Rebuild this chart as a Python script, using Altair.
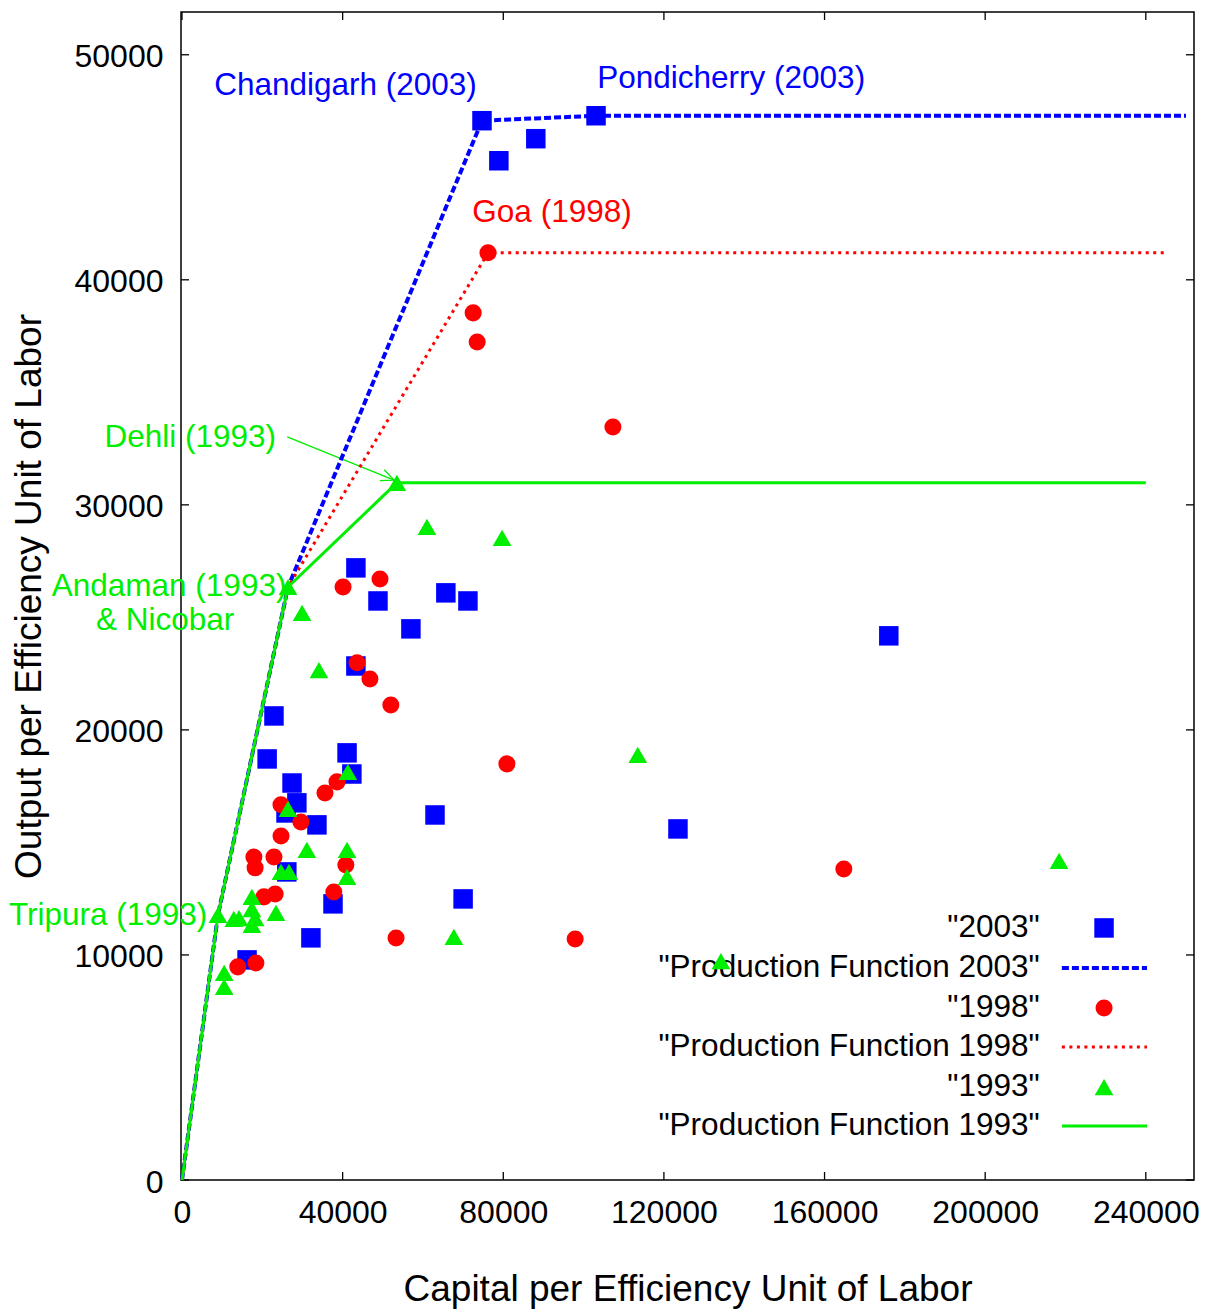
import altair as alt
import pandas as pd

# ---- observations: capital (x) and output (y) per efficiency unit of labor ----
x_2003 = [74700, 103100, 78900, 88100, 43300, 48800, 65700, 71200, 57000, 43300,
          22900, 21200, 41100, 42300, 27400, 28600, 25900, 33600, 63000, 70000,
          37600, 32100, 16200, 26100, 123500, 176000]
y_2003 = [47070, 47290, 45290, 46270, 27200, 25730, 26090, 25730, 24490, 22840,
          20620, 18710, 18980, 18040, 17640, 16760, 16310, 15780, 16220, 12490,
          12270, 10760, 9780, 13690, 15600, 24180]

x_1998 = [76200, 72500, 73500, 107300, 49300, 40100, 43600, 46800, 52000, 80900,
          38600, 35600, 24650, 29600, 24650, 17900, 18200, 22900, 40800, 20400,
          23200, 37800, 13900, 18400, 53300, 97900, 164800]
y_1998 = [41200, 38530, 37240, 33460, 26710, 26350, 22980, 22260, 21110, 18490,
          17690, 17200, 16670, 15910, 15290, 14350, 13870, 14350, 14000, 12580,
          12710, 12800, 9470, 9640, 10750, 10710, 13820]

x_1993 = [53500, 26400, 8960, 61000, 79700, 29900, 34100, 41300, 113500, 26400,
          31100, 41100, 24650, 26640, 41100, 17400, 17400, 18200, 17400, 23400,
          12900, 14200, 67700, 10500, 10500, 134200, 218400]
y_1993 = [30980, 26350, 11780, 29020, 28530, 25200, 22660, 18130, 18890, 16490,
          14670, 14670, 13690, 13690, 13470, 12580, 12040, 11640, 11330, 11870,
          11600, 11640, 10800, 9200, 8580, 9730, 14180]

# ---- production-function frontiers ----
pf_2003_x = [0, 8960, 26400, 74700, 103100, 250000]
pf_2003_y = [0, 11780, 26350, 47070, 47290, 47290]
pf_1998_x = [0, 8960, 26400, 76200, 245000]
pf_1998_y = [0, 11780, 26350, 41200, 41200]
pf_1993_x = [0, 8960, 26400, 53500, 240000]
pf_1993_y = [0, 11780, 26350, 30980, 30980]

# ---- annotations ----
ann_text = ["Chandigarh (2003)", "Pondicherry (2003)", "Goa (1998)",
            "Dehli (1993)", "Andaman (1993)", "& Nicobar", "Tripura (1993)"]
ann_x = [8000, 103400, 72300, 23400, 26000, -4200, 6300]
ann_y = [48620, 48930, 42980, 32980, 26350, 24840, 11730]
ann_align = ["left", "left", "left", "right", "right", "center", "right"]
ann_color = ["blue", "blue", "red", "#00ee00", "#00ee00", "#00ee00", "#00ee00"]

arrow_x = [26200, 52800]
arrow_y = [33020, 31100]

# ---- key entries ----
key_labels = ['"2003"', '"Production Function 2003"', '"1998"',
              '"Production Function 1998"', '"1993"', '"Production Function 1993"']
key_rows_y = [11200, 9420, 7640, 5910, 4130, 2400]
key_text_x = 213600
key_sample_x = [219100, 240300]
key_point_x = 229600

x_ticks = [0, 40000, 80000, 120000, 160000, 200000, 240000]
y_ticks = [0, 10000, 20000, 30000, 40000, 50000]

GREEN = "#00ee00"
FONT = "Liberation Sans"
FS = 32        # tick labels
FS_TXT = 31.5  # annotations and key
W, H = 1013, 1168

xscale = alt.Scale(domain=[-250, 252000], nice=False, zero=False)
yscale = alt.Scale(domain=[0, 51900], nice=False, zero=False)


def X(field="x"):
    return alt.X(f"{field}:Q", scale=xscale,
                 axis=alt.Axis(values=x_ticks, format="d", ticks=False, grid=False,
                               domain=False, labelPadding=17, labelFontSize=FS,
                               labelFont=FONT, labelColor="black",
                               title="Capital per Efficiency Unit of Labor",
                               titleFontSize=37, titleFont=FONT, titleFontWeight="normal",
                               titlePadding=43, titleColor="black"))


def Y(field="y"):
    return alt.Y(f"{field}:Q", scale=yscale,
                 axis=alt.Axis(values=y_ticks, format="d", ticks=False, grid=False,
                               domain=False, labelPadding=18, labelFontSize=FS,
                               labelFont=FONT, labelColor="black", labelBaseline="middle",
                               labelOffset=2,
                               title="Output per Efficiency Unit of Labor",
                               titleFontSize=37, titleFont=FONT, titleFontWeight="normal",
                               titlePadding=26, titleColor="black"))


def pts(xs, ys):
    return pd.DataFrame({"x": xs, "y": ys})


def path(xs, ys):
    return pd.DataFrame({"x": xs, "y": ys, "i": list(range(len(xs)))})


# inward ticks on all four sides of the frame
tick_x_df = pd.DataFrame({"x": x_ticks})
tick_y_df = pd.DataFrame({"y": y_ticks})
ticks_bottom = alt.Chart(tick_x_df).mark_rule(color="black", strokeWidth=1.3).encode(
    x=X(), y=alt.value(H), y2=alt.value(H - 8))
ticks_top = alt.Chart(tick_x_df).mark_rule(color="black", strokeWidth=1.3).encode(
    x=X(), y=alt.value(0), y2=alt.value(8))
ticks_left = alt.Chart(tick_y_df).mark_rule(color="black", strokeWidth=1.3).encode(
    y=Y(), x=alt.value(0), x2=alt.value(8))
ticks_right = alt.Chart(tick_y_df).mark_rule(color="black", strokeWidth=1.3).encode(
    y=Y(), x=alt.value(W), x2=alt.value(W - 8))

# text annotations
ann_layers = []
for t, ax, ay, al, c in zip(ann_text, ann_x, ann_y, ann_align, ann_color):
    ann_layers.append(
        alt.Chart(pd.DataFrame({"x": [ax], "y": [ay], "t": [t]}))
        .mark_text(align=al, baseline="middle", fontSize=FS_TXT, font=FONT, color=c)
        .encode(x=X(), y=Y(), text="t:N"))

arrow_shaft = alt.Chart(path(arrow_x, arrow_y)).mark_line(
    color=GREEN, strokeWidth=1.3).encode(x=X(), y=Y(), order="i:Q")
arrow_head = alt.Chart(pts(arrow_x[1:], arrow_y[1:])).mark_point(
    shape="M -1 -0.45 L 0 0 L -1 0.45", size=676, filled=False, color=GREEN,
    strokeWidth=1.3, angle=22, opacity=1).encode(x=X(), y=Y())

# key
key_text = alt.Chart(pd.DataFrame({"x": [key_text_x] * 6, "y": key_rows_y, "t": key_labels})
                     ).mark_text(align="right", baseline="middle", fontSize=FS_TXT, font=FONT,
                                 color="black").encode(x=X(), y=Y(), text="t:N")

sq_style = dict(shape="square", size=380, filled=True, color="blue", opacity=1)
ci_style = dict(shape="circle", size=290, filled=True, color="red", opacity=1)
tr_style = dict(shape="triangle-up", size=350, filled=True, color=GREEN, opacity=1)
pf03_style = dict(color="blue", strokeWidth=4, strokeDash=[7, 3])
pf98_style = dict(color="red", strokeWidth=3, strokeDash=[3, 4.5])
pf93_style = dict(color=GREEN, strokeWidth=3)

key_sq = alt.Chart(pts([key_point_x], [key_rows_y[0]])).mark_point(**sq_style).encode(x=X(), y=Y())
key_ci = alt.Chart(pts([key_point_x], [key_rows_y[2]])).mark_point(**ci_style).encode(x=X(), y=Y())
key_tr = alt.Chart(pts([key_point_x], [key_rows_y[4]])).mark_point(**tr_style).encode(x=X(), y=Y())
key_l03 = alt.Chart(path(key_sample_x, [key_rows_y[1]] * 2)).mark_line(**pf03_style).encode(
    x=X(), y=Y(), order="i:Q")
key_l98 = alt.Chart(path(key_sample_x, [key_rows_y[3]] * 2)).mark_line(**pf98_style).encode(
    x=X(), y=Y(), order="i:Q")
key_l93 = alt.Chart(path(key_sample_x, [key_rows_y[5]] * 2)).mark_line(**pf93_style).encode(
    x=X(), y=Y(), order="i:Q")

# data series, drawn in plotting order
s03 = alt.Chart(pts(x_2003, y_2003)).mark_point(**sq_style).encode(x=X(), y=Y())
l03 = alt.Chart(path(pf_2003_x, pf_2003_y)).mark_line(**pf03_style).encode(x=X(), y=Y(), order="i:Q")
s98 = alt.Chart(pts(x_1998, y_1998)).mark_point(**ci_style).encode(x=X(), y=Y())
l98 = alt.Chart(path(pf_1998_x, pf_1998_y)).mark_line(**pf98_style).encode(x=X(), y=Y(), order="i:Q")
s93 = alt.Chart(pts(x_1993, y_1993)).mark_point(**tr_style).encode(x=X(), y=Y())
l93 = alt.Chart(path(pf_1993_x, pf_1993_y)).mark_line(**pf93_style).encode(x=X(), y=Y(), order="i:Q")

chart = alt.layer(
    ticks_bottom, ticks_top, ticks_left, ticks_right,
    *ann_layers, arrow_shaft, arrow_head,
    key_text, key_sq, key_l03, key_ci, key_l98, key_tr, key_l93,
    s03, l03, s98, l98, s93, l93,
).properties(
    width=W, height=H,
    autosize=alt.AutoSizeParams(type="none"),
    padding={"left": 181, "top": 12, "right": 22, "bottom": 133},
    background="white",
).configure_view(stroke="black", strokeWidth=1.5)

chart.save("out.html", embed_options={"renderer": "svg", "actions": False})
